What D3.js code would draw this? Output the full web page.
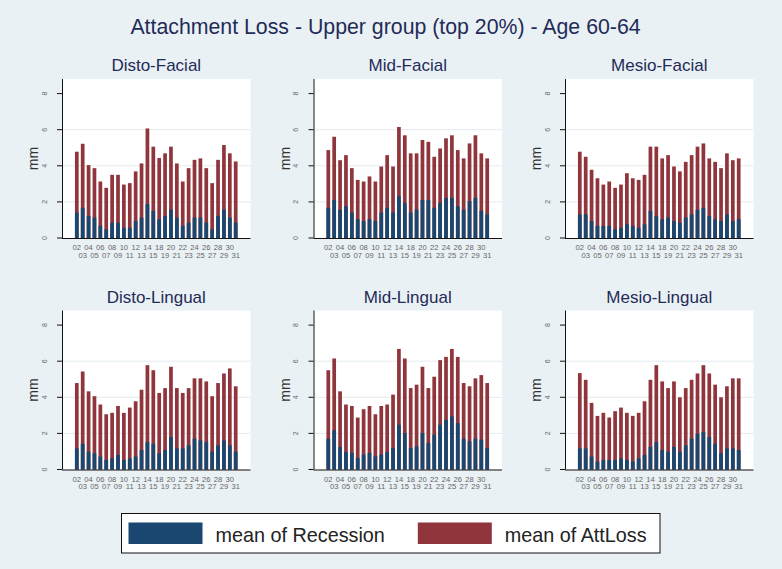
<!DOCTYPE html>
<html>
<head>
<meta charset="utf-8">
<script src="https://cdn.jsdelivr.net/npm/d3@7"></script>
<style>
  html, body { margin: 0; padding: 0; background: #eaf1f4; }
  svg { display: block; font-family: "Liberation Sans", Arial, sans-serif; }
</style>
</head>
<body>
<svg id="chart" width="782" height="569"></svg>
<script>
// ---- data ----
const mainTitle = "Attachment Loss - Upper group (top 20%) - Age 60-64";
const teeth = ["02","03","04","05","06","07","08","09","10","11","12","13","14","15",
               "18","19","20","21","22","23","24","25","26","27","28","29","30","31"];
const panelNames = ["Disto-Facial","Mid-Facial","Mesio-Facial","Disto-Lingual","Mid-Lingual","Mesio-Lingual"];
const yTicks = [0, 2, 4, 6, 8];
const seriesNames = ["mean of Recession", "mean of AttLoss"];

const recDistoFacial = [1.41,1.67,1.22,1.13,0.67,0.48,0.85,0.85,0.57,0.57,0.94,1.13,1.89,1.50,1.04,1.22,1.57,1.13,0.67,0.85,1.13,1.13,0.85,0.48,1.22,1.57,1.13,0.85];
const attDistoFacial = [4.78,5.22,4.04,3.87,3.13,2.78,3.50,3.50,2.96,3.04,3.69,4.13,6.07,5.06,4.43,4.69,5.06,4.13,3.13,3.87,4.33,4.41,3.87,3.04,4.33,5.15,4.69,4.24];

const recMidFacial = [1.67,2.11,1.57,1.76,1.41,1.04,0.94,1.04,0.94,1.41,1.67,1.41,2.31,1.94,1.41,1.57,2.11,2.11,1.67,1.94,2.22,2.22,1.76,1.57,2.04,2.22,1.50,1.31];
const attMidFacial = [4.87,5.61,4.31,4.59,3.87,3.22,3.13,3.41,3.13,3.96,4.59,3.96,6.15,5.69,4.69,4.69,5.43,5.33,4.50,4.96,5.52,5.69,4.87,4.41,5.24,5.69,4.69,4.41];

const recMesioFacial = [1.31,1.31,0.94,0.67,0.67,0.67,0.48,0.57,0.76,0.67,0.57,0.76,1.50,1.22,1.04,1.13,0.94,0.85,1.13,1.31,1.57,1.67,1.22,1.04,0.94,1.31,0.94,1.04];
const attMesioFacial = [4.78,4.50,3.78,3.31,2.96,3.13,2.78,2.96,3.59,3.31,3.22,3.50,5.06,5.06,4.41,4.59,3.96,3.69,4.22,4.59,5.06,5.24,4.41,4.22,3.87,4.69,4.31,4.41];

const recDistoLingual = [1.17,1.43,0.99,0.90,0.72,0.53,0.62,0.81,0.53,0.62,0.72,1.08,1.52,1.43,0.90,1.08,1.80,1.17,1.17,1.34,1.71,1.61,1.52,0.99,1.34,1.61,1.34,0.99];
const attDistoLingual = [4.79,5.43,4.33,4.06,3.60,3.06,3.14,3.52,3.14,3.43,3.78,4.42,5.78,5.50,4.24,4.51,5.69,4.51,4.24,4.51,5.05,5.05,4.88,4.06,4.79,5.32,5.60,4.61];

const recMidLingual = [1.71,2.17,1.25,0.97,0.92,0.64,0.83,0.92,0.73,0.83,0.97,1.19,2.48,2.02,1.19,1.28,2.02,1.47,1.93,2.48,2.75,2.94,2.57,1.71,1.56,1.71,1.65,1.19];
const attMidLingual = [5.50,6.15,4.33,3.60,3.52,2.88,3.34,3.52,3.06,3.52,3.60,4.15,6.68,6.15,4.51,4.70,5.69,4.51,5.14,6.06,6.24,6.68,6.24,4.79,4.61,5.05,5.23,4.79];

const recMesioLingual = [1.17,1.17,0.72,0.44,0.53,0.53,0.53,0.62,0.53,0.44,0.62,0.81,1.25,1.52,1.08,0.99,1.25,0.99,1.34,1.71,1.98,2.07,1.80,1.43,0.90,1.17,1.17,1.08];
const attMesioLingual = [5.34,4.97,3.69,2.97,3.14,2.88,3.23,3.43,3.14,2.97,3.14,3.78,4.97,5.78,4.88,4.51,4.88,4.00,4.51,4.97,5.32,5.78,5.32,4.70,4.00,4.61,5.05,5.05];

const recessionByPanel = [recDistoFacial, recMidFacial, recMesioFacial, recDistoLingual, recMidLingual, recMesioLingual];
const attLossByPanel = [attDistoFacial, attMidFacial, attMesioFacial, attDistoLingual, attMidLingual, attMesioLingual];

// ---- styles ----
const colRec = "#1a476f";
const colAtt = "#90353b";
const titleCol = "#1f2b58";

const svg = d3.select("#chart");

svg.append("rect").attr("x", 0).attr("y", 0).attr("width", 782).attr("height", 569).attr("fill", "#eaf1f4");

svg.append("text")
  .attr("x", 385.5).attr("y", 34)
  .attr("text-anchor", "middle")
  .attr("font-size", 21.3)
  .attr("fill", titleCol)
  .text(mainTitle);

const pw = 188.5, ph = 159;
const colLeft = [62, 313.5, 565];
const rowTop = [79, 310.5];

const x = d3.scaleBand().domain(teeth).range([0, pw]).paddingInner(0.37).paddingOuter(2.2);
const y = d3.scaleLinear().domain([0, 8]).range([ph, ph - 144.4]);

panelNames.forEach((name, i) => {
  const c = i % 3, r = Math.floor(i / 3);
  const g = svg.append("g").attr("transform", `translate(${colLeft[c]},${rowTop[r]})`);

  g.append("rect").attr("x", 0).attr("y", 0).attr("width", pw).attr("height", ph).attr("fill", "#ffffff");

  // gridlines
  g.selectAll("line.grid").data(yTicks.filter(t => t > 0 && t < 8)).enter().append("line")
    .attr("x1", 0).attr("x2", pw)
    .attr("y1", d => y(d)).attr("y2", d => y(d))
    .attr("stroke", "#e3ebef").attr("stroke-width", 1);

  const rec = recessionByPanel[i], att = attLossByPanel[i];

  g.selectAll("rect.att").data(teeth).enter().append("rect")
    .attr("x", d => x(d)).attr("width", x.bandwidth())
    .attr("y", (d, k) => y(att[k])).attr("height", (d, k) => y(0) - y(att[k]))
    .attr("fill", colAtt);

  g.selectAll("rect.rec").data(teeth).enter().append("rect")
    .attr("x", d => x(d)).attr("width", x.bandwidth())
    .attr("y", (d, k) => y(rec[k])).attr("height", (d, k) => y(0) - y(rec[k]))
    .attr("fill", colRec);

  // axes
  g.append("line").attr("x1", 0.5).attr("x2", 0.5).attr("y1", 0).attr("y2", ph)
    .attr("stroke", "#111").attr("stroke-width", 1);
  g.append("line").attr("x1", 0).attr("x2", pw).attr("y1", ph + 0.5).attr("y2", ph + 0.5)
    .attr("stroke", "#111").attr("stroke-width", 1);

  // y ticks
  g.selectAll("line.tick").data(yTicks).enter().append("line")
    .attr("x1", -5).attr("x2", 0)
    .attr("y1", d => y(d)).attr("y2", d => y(d))
    .attr("stroke", "#111").attr("stroke-width", 1);
  g.selectAll("text.ytl").data(yTicks).enter().append("text")
    .attr("transform", d => `translate(-15.5,${y(d)}) rotate(-90)`)
    .attr("text-anchor", "middle")
    .attr("font-size", 7)
    .attr("fill", "#666")
    .text(d => d);

  // y title
  g.append("text")
    .attr("transform", `translate(-24,${ph / 2}) rotate(-90)`)
    .attr("text-anchor", "middle")
    .attr("font-size", 14)
    .attr("fill", "#333")
    .text("mm");

  // x labels, alternating rows
  g.selectAll("text.xl").data(teeth).enter().append("text")
    .attr("x", d => x(d) + x.bandwidth() / 2)
    .attr("y", (d, k) => ph + (k % 2 === 0 ? 12 : 19.5))
    .attr("text-anchor", "middle")
    .attr("font-size", 7.6)
    .attr("fill", "#666")
    .text(d => d);

  // panel title
  g.append("text")
    .attr("x", pw / 2).attr("y", -8)
    .attr("text-anchor", "middle")
    .attr("font-size", 17)
    .attr("fill", titleCol)
    .text(name);
});

// legend
const lg = svg.append("g");
lg.append("rect").attr("x", 121.5).attr("y", 513.5).attr("width", 538.5).attr("height", 39.5)
  .attr("fill", "#ffffff").attr("stroke", "#111").attr("stroke-width", 1);
const legX = [128.5, 417.8];
const legCols = [colRec, colAtt];
seriesNames.forEach((s, i) => {
  lg.append("rect").attr("x", legX[i]).attr("y", 522.5).attr("width", 74).attr("height", 21.5).attr("fill", legCols[i]);
  lg.append("text").attr("x", legX[i] + 87).attr("y", 542)
    .attr("font-size", 19.8).attr("fill", "#222").text(s);
});
</script>
</body>
</html>
